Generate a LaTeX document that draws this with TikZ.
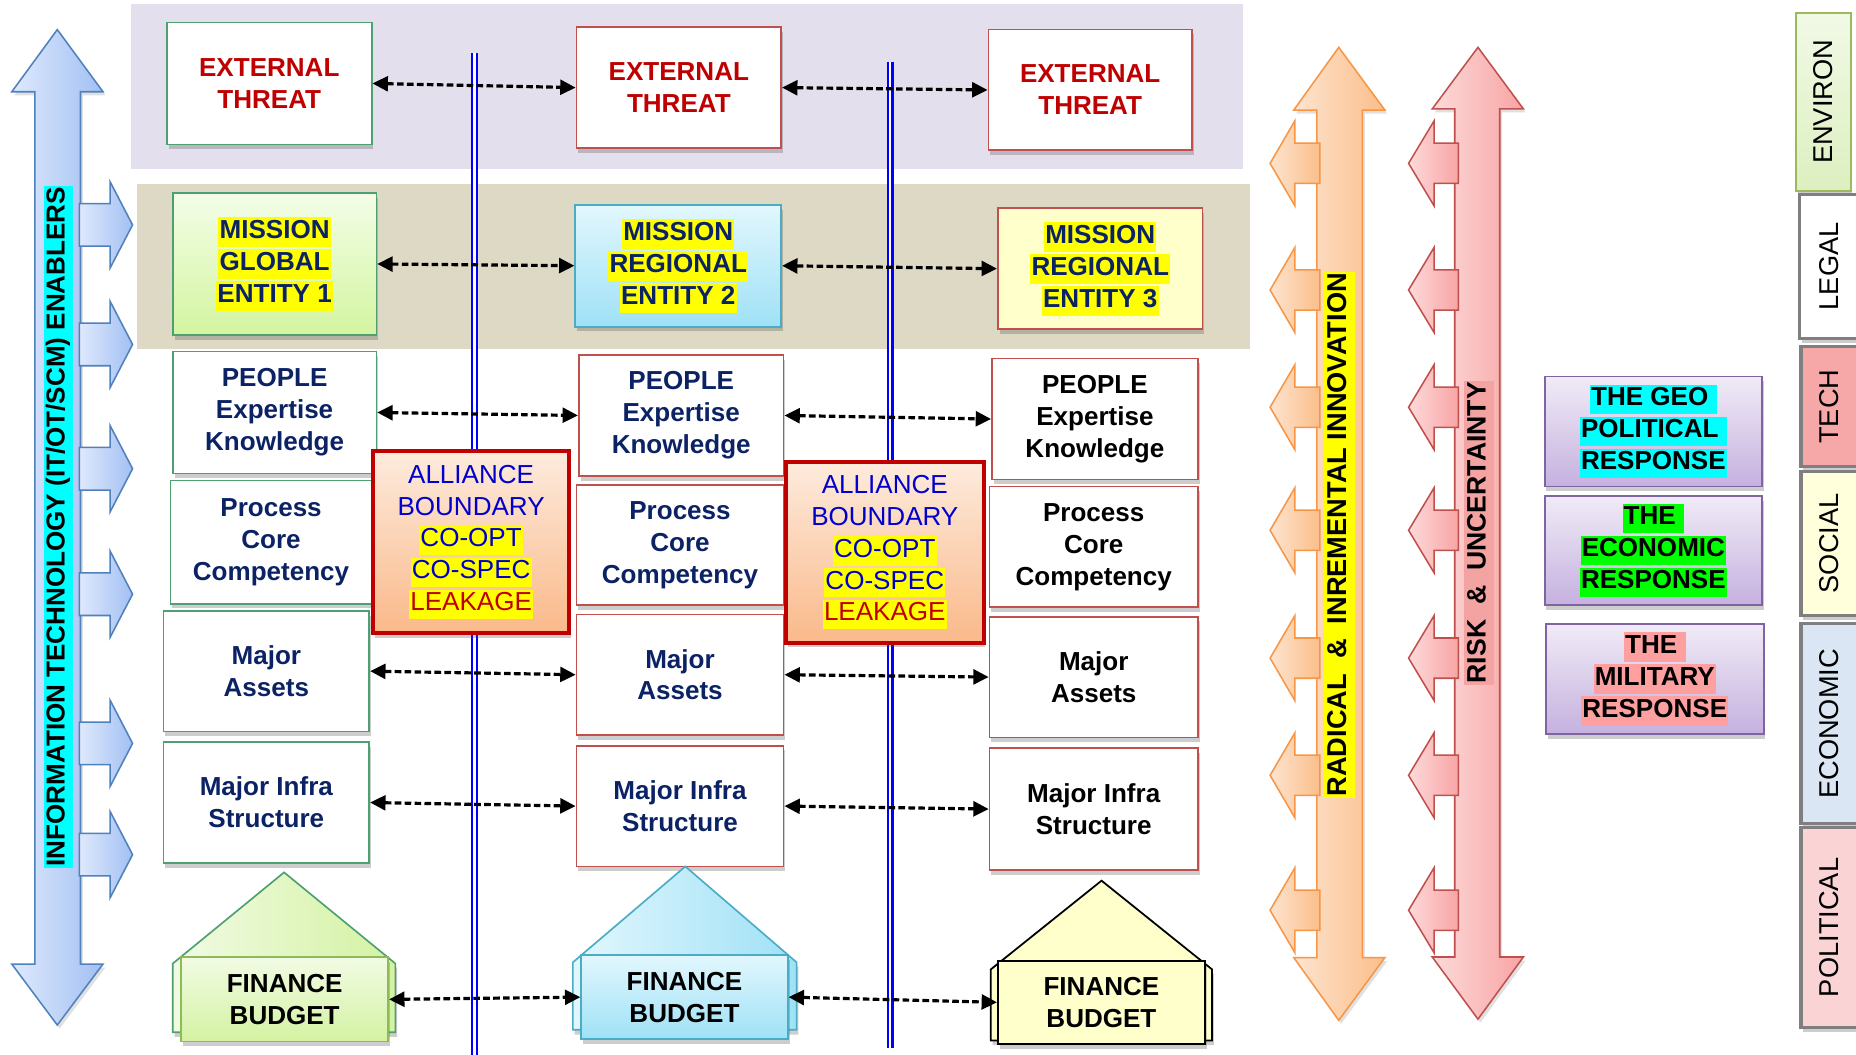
\documentclass[tikz,border=0pt]{standalone}
\usepackage{fontspec}
\setmainfont{Liberation Sans}
\usetikzlibrary{arrows.meta,shadows}

% palette
\definecolor{bandpurple}{HTML}{E4DFEC}
\definecolor{bandtan}{HTML}{DDD9C4}
\definecolor{greenline}{HTML}{4FA070}
\definecolor{redline}{HTML}{C0504D}
\definecolor{darkred}{HTML}{C00000}
\definecolor{navy}{HTML}{0B2265}
\definecolor{allblue}{HTML}{0000CC}
\definecolor{hlyellow}{HTML}{FFFF00}
\definecolor{hlcyan}{HTML}{00FFFF}
\definecolor{hlgreen}{HTML}{00FF00}
\definecolor{hlpink}{HTML}{FFA0A0}
\definecolor{hlrisk}{HTML}{F4A3A3}
\definecolor{linkblue}{HTML}{0000FF}
\definecolor{tealline}{HTML}{4BACC6}
\definecolor{m1top}{HTML}{F3FDE8}
\definecolor{m1bot}{HTML}{D4F5A0}
\definecolor{m2top}{HTML}{E2F7FD}
\definecolor{m2bot}{HTML}{9FE1F6}
\definecolor{paleyellow}{HTML}{FFFFCC}
\definecolor{alltop}{HTML}{FDEBDD}
\definecolor{allbot}{HTML}{FAB98A}
\definecolor{purtop}{HTML}{F0EBF7}
\definecolor{purbot}{HTML}{C5B1DF}
\definecolor{purline}{HTML}{8064A2}
\definecolor{bluelight}{HTML}{DFE9FC}
\definecolor{bluedark}{HTML}{A2C0F3}
\definecolor{blueline}{HTML}{4F81BD}
\definecolor{orlight}{HTML}{FDE4CF}
\definecolor{ordark}{HTML}{FBBE8A}
\definecolor{orline}{HTML}{F79646}
\definecolor{rdlight}{HTML}{FDDADA}
\definecolor{rddark}{HTML}{F8A4A4}
\definecolor{tabgrey}{HTML}{7F7F7F}
\definecolor{envtop}{HTML}{F1F9E6}
\definecolor{envbot}{HTML}{DDEFC0}
\definecolor{envline}{HTML}{9BBB59}
\definecolor{techfill}{HTML}{F6A8A8}
\definecolor{socfill}{HTML}{FFFFDC}
\definecolor{ecofill}{HTML}{DBE6F4}
\definecolor{polfill}{HTML}{FAD4D4}
\definecolor{f1line}{HTML}{8DBB5A}
\definecolor{f1top}{HTML}{F1FBE4}
\definecolor{f1bot}{HTML}{D4F2A2}

% text highlight in the manner of a marker pen
\newcommand\hl[2]{{\setlength{\fboxsep}{1pt}\colorbox{#1}{\rule[-0.28em]{0pt}{1.05em}#2}}}

\tikzset{
  txtb/.style={font=\fontsize{22}{27}\selectfont\bfseries},
  txtr/.style={font=\fontsize{22}{27}\selectfont},
  shd/.style={drop shadow={shadow xshift=1.5pt,shadow yshift=-4pt,opacity=0.28,fill=black!70}},
  cbox/.style={draw=#1, line width=1.4pt, fill=white, inner sep=0pt, align=center, txtb, shd},
  sz/.style 2 args={minimum width=#1, minimum height=#2},
  link/.style={{Triangle[length=13pt,width=12.5pt]}-{Triangle[length=13pt,width=12.5pt]},
               dash pattern=on 5.6pt off 2.8pt, line width=2.7pt, black},
  vline/.style={draw=linkblue, line width=1.7pt, double=white, double distance=2.3pt},
  bigarrow/.style n args={3}{draw=#1, left color=#2, right color=#3, line width=1.3pt,
               drop shadow={shadow xshift=2pt,shadow yshift=-3pt,opacity=0.2,fill=black!60}},
  smallarrow/.style n args={3}{draw=#1, left color=#2, right color=#3, line width=1.3pt},
  allbox/.style={draw=darkred, line width=3.5pt, top color=alltop, bottom color=allbot,
               inner sep=0pt, align=center, txtr, text=allblue, shd},
  purbox/.style={draw=purline, line width=1.4pt, top color=purtop, bottom color=purbot,
               inner sep=0pt, align=center, txtb, text=black, shd},
  tab/.style={draw=tabgrey, line width=2.6pt, inner sep=0pt,
               font=\fontsize{23}{27}\selectfont, shd},
  vlabel/.style={rotate=90, inner sep=0pt},
}

\begin{document}
\begin{tikzpicture}[x=1pt,y=-1pt]
\useasboundingbox (0,0) rectangle (1568,891);
\fill[white] (0,0) rectangle (1568,891);

% horizontal bands
\fill[bandpurple] (110.5,3.5) rectangle (1050,143);
\fill[bandtan] (115.6,155.5) rectangle (1055.8,295);

% alliance boundary lines
\coordinate (b1top) at (401,45);
\coordinate (b1bot) at (401,891);
\coordinate (b2top) at (752,52);
\coordinate (b2bot) at (752,885);
\draw[vline] (b1top) -- (b1bot);
\draw[vline] (b2top) -- (b2bot);

% IT enablers arrow
\draw[bigarrow={blueline}{bluelight}{bluedark}]
  (48.4,25) -- (87,77.5) -- (68,77.5) -- (68,814.5) -- (87,814.5) -- (48.4,866)
  -- (10,814.5) -- (29.4,814.5) -- (29.4,77.5) -- (10,77.5) -- cycle;
\foreach \cy in {190,291,396,502,628,722}{
  \draw[smallarrow={blueline}{bluelight}{bluedark}]
    (67,{\cy-18}) -- (93,{\cy-18}) -- (93,{\cy-36.5}) -- (112,\cy) -- (93,{\cy+36.5})
    -- (93,{\cy+18}) -- (67,{\cy+18}) -- cycle;
}
\node[vlabel, txtb] (itlabel) at (49.3,445) {\hl{hlcyan}{INFORMATION TECHNOLOGY (IT/OT/SCM) ENABLERS}};

% innovation arrow
\draw[bigarrow={orline}{orlight}{ordark}]
  (1131,40) -- (1170,93) -- (1151,93) -- (1151,809) -- (1170,809) -- (1131,862)
  -- (1093,809) -- (1112.5,809) -- (1112.5,93) -- (1093,93) -- cycle;
\foreach \cy in {138,245,344,448,556,655,769}{
  \draw[smallarrow={orline}{orlight}{ordark}]
    (1115,{\cy-17}) -- (1094,{\cy-17}) -- (1094,{\cy-36}) -- (1073,\cy) -- (1094,{\cy+36})
    -- (1094,{\cy+17}) -- (1115,{\cy+17}) -- cycle;
}
\node[vlabel, font=\fontsize{23}{27}\selectfont\bfseries] (innov) at (1131.8,451.8)
  {\hl{hlyellow}{RADICAL\ \ \&\ \ INREMENTAL INNOVATION}};

% risk arrow
\draw[bigarrow={redline}{rdlight}{rddark}]
  (1248.6,40) -- (1287,92) -- (1267,92) -- (1267,808.5) -- (1287,808.5) -- (1248.6,861)
  -- (1210,808.5) -- (1229,808.5) -- (1229,92) -- (1210,92) -- cycle;
\foreach \cy in {138,245,344,448,556,655,769}{
  \draw[smallarrow={redline}{rdlight}{rddark}]
    (1232,{\cy-17}) -- (1211.6,{\cy-17}) -- (1211.6,{\cy-36}) -- (1190,\cy) -- (1211.6,{\cy+36})
    -- (1211.6,{\cy+17}) -- (1232,{\cy+17}) -- cycle;
}
\node[vlabel, font=\fontsize{22.5}{27}\selectfont\bfseries] (risk) at (1249.5,450)
  {\hl{hlrisk}{RISK\ \ \&\ \ UNCERTAINTY}};

% column 1
\node[cbox=greenline, sz={173pt}{103pt}, text=darkred] (e1) at (227.5,70.5) {EXTERNAL\\THREAT};
\node[cbox=greenline, sz={172pt}{120pt}, top color=m1top, bottom color=m1bot, text=navy] (m1) at (232,223)
  {\hl{hlyellow}{MISSION}\\\hl{hlyellow}{GLOBAL}\\\hl{hlyellow}{ENTITY 1}};
\node[cbox=greenline, sz={172pt}{103pt}, text=navy] (p1) at (232,348.5) {PEOPLE\\Expertise\\Knowledge};
\node[cbox=greenline, sz={170pt}{104pt}, text=navy] (r1) at (229,458) {Process\\Core\\Competency};
\node[cbox=greenline, sz={174pt}{102pt}, text=navy] (a1) at (225,567) {Major\\Assets};
\node[cbox=greenline, sz={174pt}{102pt}, text=navy] (i1) at (225,678) {Major Infra\\Structure};

% column 2
\node[cbox=redline, sz={173pt}{102pt}, text=darkred] (e2) at (573.5,74) {EXTERNAL\\THREAT};
\node[cbox=tealline, sz={174pt}{103pt}, top color=m2top, bottom color=m2bot, text=navy] (m2) at (573,224.5)
  {\hl{hlyellow}{MISSION}\\\hl{hlyellow}{REGIONAL}\\\hl{hlyellow}{ENTITY 2}};
\node[cbox=redline, sz={173pt}{102pt}, text=navy] (p2) at (575.5,351) {PEOPLE\\Expertise\\Knowledge};
\node[cbox=redline, sz={175pt}{101pt}, text=navy] (r2) at (574.5,460.5) {Process\\Core\\Competency};
\node[cbox=redline, sz={175pt}{102pt}, text=navy] (a2) at (574.5,570) {Major\\Assets};
\node[cbox=redline, sz={175pt}{102pt}, text=navy] (i2) at (574.5,681) {Major Infra\\Structure};

% column 3
\node[cbox=redline, sz={172pt}{102pt}, text=darkred] (e3) at (921,76) {EXTERNAL\\THREAT};
\node[cbox=redline, sz={173pt}{102pt}, fill=paleyellow, text=navy] (m3) at (929.5,227)
  {\hl{hlyellow}{MISSION}\\\hl{hlyellow}{REGIONAL}\\\hl{hlyellow}{ENTITY 3}};
\node[cbox=redline, sz={174pt}{102pt}, text=black] (p3) at (925,354) {PEOPLE\\Expertise\\Knowledge};
\node[cbox=redline, sz={176pt}{102pt}, text=black] (r3) at (924,462) {Process\\Core\\Competency};
\node[cbox=redline, sz={176pt}{102pt}, text=black] (a3) at (924,572) {Major\\Assets};
\node[cbox=redline, sz={176pt}{103pt}, text=black] (i3) at (924,683.5) {Major Infra\\Structure};

% alliance boundaries
\node[allbox, sz={166pt}{154pt}] (al1) at (398,458)
  {ALLIANCE\\BOUNDARY\\\hl{hlyellow}{CO-OPT}\\\hl{hlyellow}{CO-SPEC}\\\hl{hlyellow}{\textcolor{darkred}{LEAKAGE}}};
\node[allbox, sz={167pt}{153pt}] (al2) at (747.5,466.5)
  {ALLIANCE\\BOUNDARY\\\hl{hlyellow}{CO-OPT}\\\hl{hlyellow}{CO-SPEC}\\\hl{hlyellow}{\textcolor{darkred}{LEAKAGE}}};

% finance houses
\draw[draw=greenline, line width=1.4pt, left color=f1top, right color=f1bot, shd]
  (240,737) -- (334,814) -- (334,872) -- (146,872) -- (146,814) -- cycle;
\node[cbox=f1line, sz={175pt}{71.4pt}, top color=f1top, bottom color=f1bot, text=black] (f1) at (240.5,844.3) {FINANCE\\BUDGET};
\draw[draw=tealline, line width=1.4pt, left color=m2top, right color=m2bot, shd]
  (579,732) -- (673,813) -- (673,870) -- (484,870) -- (484,813) -- cycle;
\node[cbox=tealline, sz={174.5pt}{71.2pt}, top color=m2top, bottom color=m2bot, text=black] (f2) at (578.25,842.4) {FINANCE\\BUDGET};
\draw[draw=black, line width=1.5pt, fill=paleyellow, shd]
  (930.6,744) -- (1024,819) -- (1024,879) -- (837,879) -- (837,819) -- cycle;
\node[cbox=black, sz={175pt}{70.4pt}, fill=paleyellow, text=black] (f3) at (930.5,846.8) {FINANCE\\BUDGET};

% peer links
\foreach \u/\v in {e1/e2,e2/e3,m1/m2,m2/m3,p1/p2,p2/p3,a1/a2,a2/a3,i1/i2,i2/i3,f1/f2,f2/f3}{
  \draw[link] (\u.east) -- (\v.west);
}

% responses
\node[purbox, sz={183.6pt}{93pt}] (geo) at (1396.8,364.5)
  {\hl{hlcyan}{THE GEO }\\\hl{hlcyan}{POLITICAL }\\\hl{hlcyan}{RESPONSE}};
\node[purbox, sz={183.6pt}{92pt}] (eco) at (1396.8,465)
  {\hl{hlgreen}{THE }\\\hl{hlgreen}{ECONOMIC}\\\hl{hlgreen}{RESPONSE}};
\node[purbox, sz={184pt}{93pt}] (mil) at (1398,573.5)
  {\hl{hlpink}{THE }\\\hl{hlpink}{MILITARY}\\\hl{hlpink}{RESPONSE}};

% environment tabs
\node[tab, draw=envline, line width=1.6pt, top color=envtop, bottom color=envbot, sz={46pt}{150pt}] (tenv) at (1540.5,86) {\rotatebox{90}{ENVIRON}};
\node[tab, fill=white, sz={49pt}{122pt}] (tleg) at (1545,225) {\rotatebox{90}{LEGAL}};
\node[tab, fill=techfill, sz={48pt}{101pt}] (ttec) at (1545.5,343.5) {\rotatebox{90}{TECH}};
\node[tab, fill=socfill, sz={48pt}{122pt}] (tsoc) at (1545.5,459) {\rotatebox{90}{SOCIAL}};
\node[tab, fill=ecofill, sz={48pt}{169pt}] (teco) at (1545.5,611.5) {\rotatebox{90}{ECONOMIC}};
\node[tab, fill=polfill, sz={48pt}{169pt}] (tpol) at (1545.5,783.5) {\rotatebox{90}{POLITICAL}};
\end{tikzpicture}
\end{document}
